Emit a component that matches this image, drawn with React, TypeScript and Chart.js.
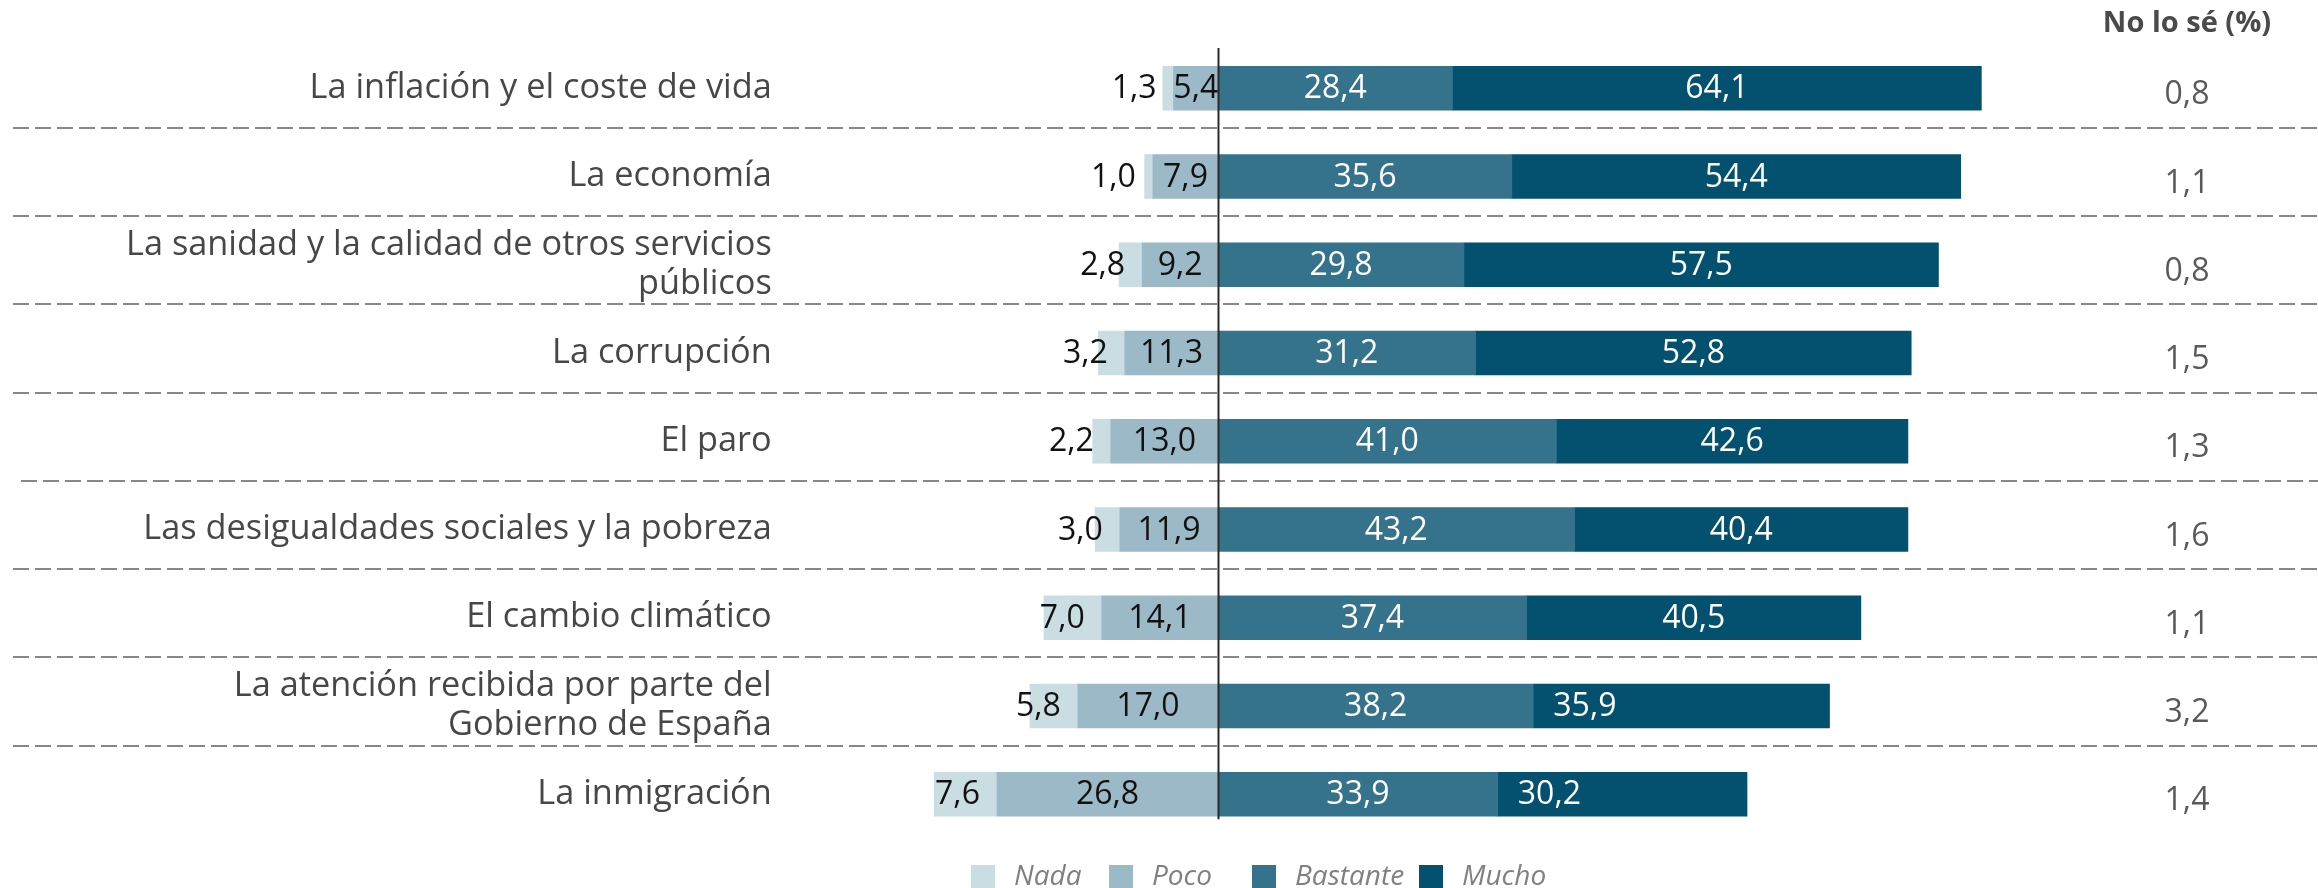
import React, { useEffect, useRef } from 'react';
import { Chart, registerables } from 'chart.js';

Chart.register(...registerables);

const categories: (string | string[])[] = [
  'La inflación y el coste de vida',
  'La economía',
  ['La sanidad y la calidad de otros servicios', 'públicos'],
  'La corrupción',
  'El paro',
  'Las desigualdades sociales y la pobreza',
  'El cambio climático',
  ['La atención recibida por parte del', 'Gobierno de España'],
  'La inmigración',
];
const nada = [1.3, 1.0, 2.8, 3.2, 2.2, 3.0, 7.0, 5.8, 7.6];
const poco = [5.4, 7.9, 9.2, 11.3, 13.0, 11.9, 14.1, 17.0, 26.8];
const bastante = [28.4, 35.6, 29.8, 31.2, 41.0, 43.2, 37.4, 38.2, 33.9];
const mucho = [64.1, 54.4, 57.5, 52.8, 42.6, 40.4, 40.5, 35.9, 30.2];
const noLoSe = [0.8, 1.1, 0.8, 1.5, 1.3, 1.6, 1.1, 3.2, 1.4];
const muchoLabelAlign = ['center', 'center', 'center', 'center', 'center', 'center', 'center', 'start', 'start'];
const seriesNames = ['Nada', 'Poco', 'Bastante', 'Mucho'];
const seriesColors = ['#cadde3', '#9bb9c7', '#35728c', '#03506f'];
const noLoSeTitle = 'No lo sé (%)';

const FONT = "'Open Sans', 'Noto Sans', sans-serif";
const fmt = (v: number) => v.toFixed(1).replace('.', ',');

export default function App() {
  const ref = useRef<HTMLCanvasElement | null>(null);

  useEffect(() => {
    if (!ref.current) return;

    const decorPlugin = {
      id: 'decor',
      beforeDatasetsDraw(chart: any) {
        const { ctx, scales, width } = chart;
        const y = scales.y;
        ctx.save();
        ctx.strokeStyle = '#888888';
        ctx.lineWidth = 2;
        ctx.setLineDash([16, 6]);
        for (let i = 0; i < categories.length - 1; i++) {
          const yy = Math.round((y.getPixelForValue(i) + y.getPixelForValue(i + 1)) / 2 - 4.5);
          ctx.beginPath();
          ctx.moveTo(i === 4 ? 21 : 13, yy);
          ctx.lineTo(width, yy);
          ctx.stroke();
        }
        ctx.restore();
      },
      afterDatasetsDraw(chart: any) {
        const { ctx, scales, chartArea } = chart;
        const x = scales.x;
        const y = scales.y;
        ctx.save();
        // value labels
        ctx.textBaseline = 'middle';
        ctx.font = `400 32px ${FONT}`;
        chart.data.datasets.forEach((ds: any, di: number) => {
          const meta = chart.getDatasetMeta(di);
          meta.data.forEach((el: any, i: number) => {
            const left = Math.min(el.x, el.base);
            const right = Math.max(el.x, el.base);
            const cy = el.y + 1;
            const name = ds.label;
            const txt = fmt(Math.abs(ds.data[i]));
            if (name === 'Nada') {
              ctx.fillStyle = '#111111';
              ctx.textAlign = 'right';
              ctx.fillText(txt, right - 17, cy);
            } else if (name === 'Poco') {
              ctx.fillStyle = '#111111';
              ctx.textAlign = 'center';
              ctx.fillText(txt, (left + right) / 2, cy);
            } else if (name === 'Bastante') {
              ctx.fillStyle = '#ffffff';
              ctx.textAlign = 'center';
              ctx.fillText(txt, (left + right) / 2, cy);
            } else {
              ctx.fillStyle = '#ffffff';
              if (muchoLabelAlign[i] === 'start') {
                ctx.textAlign = 'left';
                ctx.fillText(txt, left + 20, cy);
              } else {
                ctx.textAlign = 'center';
                ctx.fillText(txt, (left + right) / 2, cy);
              }
            }
          });
        });
        // zero line
        const x0 = Math.round(x.getPixelForValue(0)) + 0.5;
        ctx.strokeStyle = '#2b2b2b';
        ctx.lineWidth = 2;
        ctx.beginPath();
        ctx.moveTo(x0, chartArea.top + 4);
        ctx.lineTo(x0, chartArea.bottom - 19);
        ctx.stroke();

        // No lo sé column
        const colX = 2187;
        ctx.textAlign = 'center';
        ctx.fillStyle = '#4a4a4a';
        ctx.font = `700 29px ${FONT}`;
        ctx.fillText(noLoSeTitle, colX, 24);
        ctx.font = `400 32px ${FONT}`;
        ctx.fillStyle = '#595959';
        noLoSe.forEach((v, i) => {
          ctx.fillText(fmt(v), colX, y.getPixelForValue(i) + 7);
        });

        // legend
        const legendX = [971, 1109, 1252, 1419];
        const ly = 877;
        ctx.font = `italic 400 28px ${FONT}`;
        ctx.textAlign = 'left';
        seriesNames.forEach((n, i) => {
          ctx.fillStyle = seriesColors[i];
          ctx.fillRect(legendX[i], ly - 12, 24, 24);
          ctx.fillStyle = '#808080';
          ctx.fillText(n, legendX[i] + 43, ly);
        });
        ctx.restore();
      },
    };

    const chart = new Chart(ref.current, {
      type: 'bar',
      data: {
        labels: categories as any,
        datasets: [
          { label: 'Poco', data: poco.map((v) => -v), backgroundColor: seriesColors[1] },
          { label: 'Nada', data: nada.map((v) => -v), backgroundColor: seriesColors[0] },
          { label: 'Bastante', data: bastante, backgroundColor: seriesColors[2] },
          { label: 'Mucho', data: mucho, backgroundColor: seriesColors[3] },
        ],
      },
      options: {
        indexAxis: 'y',
        responsive: false,
        animation: false,
        layout: { padding: { left: 0, right: 233.5, top: 44.1, bottom: 49.65 } },
        datasets: { bar: { barThickness: 44, borderWidth: 0 } },
        scales: {
          x: { type: 'linear', stacked: true, min: -53, max: 105, display: false },
          y: {
            type: 'category',
            stacked: true,
            offset: true,
            grid: { display: false, drawTicks: false },
            border: { display: false },
            ticks: {
              color: '#474747',
              padding: 9,
              font: { family: FONT, size: 34.3, weight: '400' as any, lineHeight: 1.15 },
            },
            afterFit: (scale: any) => {
              scale.width = 780.75;
            },
          },
        },
        plugins: {
          legend: { display: false },
          tooltip: { enabled: false },
        },
      },
      plugins: [decorPlugin],
    });
    return () => chart.destroy();
  }, []);

  return (
    <div style={{ position: 'fixed', left: 0, top: 0, width: '2318px', height: '888px', background: '#ffffff' }}>
      <canvas ref={ref} width={2318} height={888} style={{ width: '2318px', height: '888px', display: 'block' }} />
    </div>
  );
}
